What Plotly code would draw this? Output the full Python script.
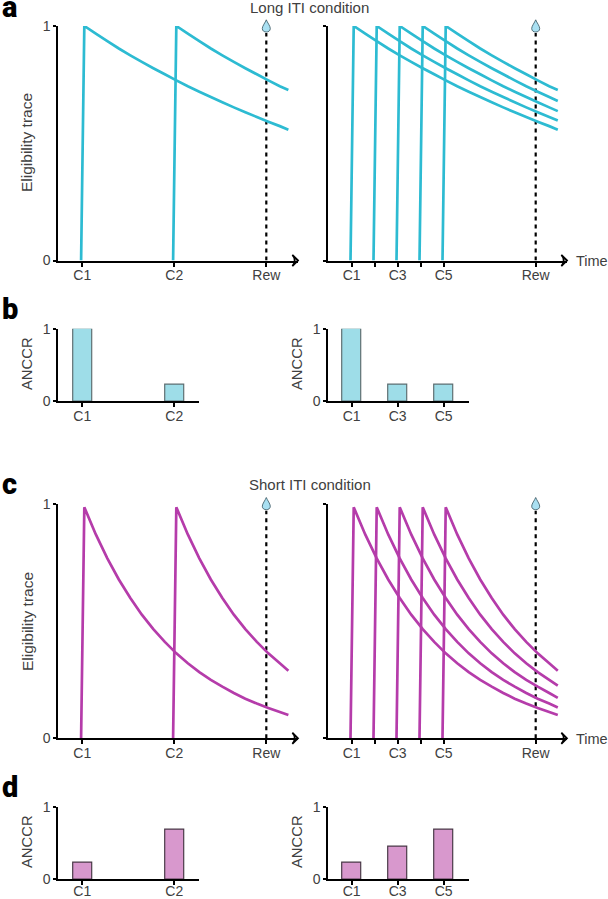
import plotly.graph_objects as go

W, H = 608, 899
FONT = "Liberation Sans"
TXT = "#404040"

# ---- data
single_onsets = [1.0, 2.0]
single_labels = ["C1", "C2"]
multi_onsets = [1.0, 1.25, 1.5, 1.75, 2.0]
multi_ticks = [1.0, 1.25, 1.5, 1.75, 2.0, 3.0]
multi_labels = ["C1", "", "C3", "", "C5", "Rew"]
reward_time = 3.0
rew_line_y = [0, 0.97]
trace_end_time = 3.24

elapsed = [0, .125, .25, .375, .5, .625, .75, .875, 1, 1.125, 1.25, 1.375, 1.5, 1.625, 1.75, 1.875, 2, 2.125]
long_decay = [1, .967, .935, .904, .875, .847, .820, .794, .768, .743, .720, .697, .675, .653, .632, .612, .592, .573]
short_decay = [.985, .869, .767, .677, .598, .527, .465, .411, .362, .320, .282, .249, .220, .193, .169, .148, .129, .112]

long_single_end = [.558, .727]
long_multi_end = [.558, .597, .637, .680, .727]
short_single_end = [.099, .288]
short_multi_end = [.099, .131, .172, .225, .288]

bar_single_x = [1.0, 2.0]
bar_multi_x = [1.0, 1.5, 2.0]
bar_multi_labels = ["C1", "C3", "C5"]
anccr_long_single = [1.0, .225]
anccr_long_multi = [1.0, .225, .225]
anccr_short_single = [.225, .68]
anccr_short_multi = [.225, .45, .68]

CYAN, MAG = "#2dbbd2", "#b53caa"
CYAN_BAR, MAG_BAR = "#9edde8", "#d898cd"
PX = 92.0
fig = go.Figure()
axn = [0]

def add_axes(x0, x1, ytop, ybot, tickvals, ticktext, ylabels, standoff=-3):
    axn[0] += 1
    n = axn[0]
    s = "" if n == 1 else str(n)
    rng = [1 + (x0[0] - x0[1]) / PX, 1 + (x1 - x0[1]) / PX]
    line = dict(showline=True, linecolor="black", linewidth=2, ticks="outside", tickcolor="black",
                tickwidth=1.5, showgrid=False, zeroline=False, fixedrange=True, automargin=False,
                tickfont=dict(family=FONT, size=14, color=TXT))
    fig.update_layout(**{
        "xaxis" + s: dict(domain=[x0[0] / W, x1 / W], range=rng, anchor="y" + s, tickmode="array",
                          tickvals=tickvals, ticktext=ticktext, ticklen=4, ticklabelstandoff=standoff, **line),
        "yaxis" + s: dict(domain=[1 - ybot / H, 1 - ytop / H], range=[0, 1], anchor="x" + s, tickmode="array",
                          tickvals=[0, 1], ticktext=["0", "1"] if ylabels else ["", ""], ticklen=3, **line),
    })
    return "x" + s, "y" + s, rng[1], s

DROP = "M 0 6.2 C -1 3.5 -4 0 -4 -2.5 C -4 -5 -2 -6 0 -6 C 2 -6 4 -5 4 -2.5 C 4 0 1 3.5 0 6.2 Z"

def trace_panel(x0, x1, ytop, ybot, onsets, ends, decay, color, tickvals, ticktext, ylabels):
    xa, ya, xmax, s = add_axes(x0, x1, ytop, ybot, tickvals, ticktext, ylabels)
    fig.add_trace(go.Scatter(x=[reward_time, reward_time], y=rew_line_y, mode="lines", xaxis=xa, yaxis=ya,
                             line=dict(color="black", width=2.2, dash="4px,4px"), showlegend=False))
    for on, end in zip(onsets, ends):
        xs, ys = [on - .013, on + .022], [0, decay[0]]
        for e, v in zip(elapsed[1:], decay[1:]):
            if on + .022 + e < trace_end_time:
                xs.append(on + .022 + e)
                ys.append(v)
        xs.append(trace_end_time)
        ys.append(end)
        fig.add_trace(go.Scatter(x=xs, y=ys, mode="lines", xaxis=xa, yaxis=ya, cliponaxis=False,
                                 line=dict(color=color, width=2.7, simplify=False), showlegend=False))
    fig.add_trace(go.Scatter(x=[xmax], y=[0], mode="markers", xaxis=xa, yaxis=ya, cliponaxis=False,
                             marker=dict(symbol="arrow-wide-open", angle=90, size=8, color="black",
                                         line=dict(color="black", width=1.8)), showlegend=False))
    fig.add_shape(type="path", xref="paper", yref="paper", xsizemode="pixel", ysizemode="pixel",
                  xanchor=(x0[1] + (reward_time - 1) * PX) / W, yanchor=1 - ytop / H, path=DROP,
                  fillcolor="#a9e0f2", line=dict(color="#33505c", width=0.8))

def bar_panel(x0, x1, ytop, ybot, xs, vals, labels, fill, edge, standoff=-3):
    xa, ya, _, _ = add_axes(x0, x1, ytop, ybot, xs, labels, True, standoff)
    fig.add_trace(go.Bar(x=xs, y=vals, width=19 / PX, xaxis=xa, yaxis=ya, showlegend=False,
                         marker=dict(color=fill, line=dict(color=edge, width=1.2))))

L = (58.3, 82.3)
R = (328.3, 351.7)
trace_panel(L, 298, 26, 260.5, single_onsets, long_single_end, long_decay, CYAN,
            single_onsets + [reward_time], single_labels + ["Rew"], True)
trace_panel(R, 567, 26, 260.5, multi_onsets, long_multi_end, long_decay, CYAN, multi_ticks, multi_labels, False)
bar_panel(L, 199.3, 328.7, 401.3, bar_single_x, anccr_long_single, single_labels, CYAN_BAR, "#5f6f72")
bar_panel(R, 469, 328.7, 401.3, bar_multi_x, anccr_long_multi, bar_multi_labels, CYAN_BAR, "#5f6f72")
trace_panel(L, 298, 503.7, 738.3, single_onsets, short_single_end, short_decay, MAG,
            single_onsets + [reward_time], single_labels + ["Rew"], True)
trace_panel(R, 567, 503.7, 738.3, multi_onsets, short_multi_end, short_decay, MAG, multi_ticks, multi_labels, False)
bar_panel(L, 199.3, 806.7, 879.3, bar_single_x, anccr_short_single, single_labels, MAG_BAR, "#4a3a48", -6)
bar_panel(R, 469, 806.7, 879.3, bar_multi_x, anccr_short_multi, bar_multi_labels, MAG_BAR, "#4a3a48", -6)

def note(x, y, text, size=14, color=TXT, angle=0, weight=None, family=FONT, anchor="center"):
    f = dict(family=family, size=size, color=color)
    if weight:
        f["weight"] = weight
    fig.add_annotation(x=x / W, y=1 - y / H, xref="paper", yref="paper", text=text, showarrow=False,
                       textangle=angle, font=f, xanchor=anchor, yanchor="middle")

note(309.5, 7, "Long ITI condition", 15)
note(309.5, 484.5, "Short ITI condition", 15)
note(592, 261, "Time", 14.5)
note(592, 739, "Time", 14.5)
note(27, 143, "Eligibility trace", 15.5, angle=-90)
note(27, 622, "Eligibility trace", 15.5, angle=-90)
for x in (27, 297):
    note(x, 364, "ANCCR", 14.8, angle=-90)
    note(x, 842, "ANCCR", 14.8, angle=-90)
for t, y in (("a", 7.5), ("b", 309), ("c", 484), ("d", 787)):
    note(0, y, t, size=29, color="black", weight=900, family="Roboto", anchor="left")

fig.update_layout(width=W, height=H, margin=dict(l=0, r=0, t=0, b=0, autoexpand=False), paper_bgcolor="white",
                  plot_bgcolor="white", bargap=0, hovermode=False)
POST = ("document.documentElement.style.margin='0';document.body.style.margin='0';document.body.style.padding='0';"
        "var g=document.getElementsByClassName('plotly-graph-div')[0];"
        "g.style.position='absolute';g.style.left='0px';g.style.top='0px';")
fig.write_html("out.html", config=dict(displayModeBar=False), post_script=POST)
